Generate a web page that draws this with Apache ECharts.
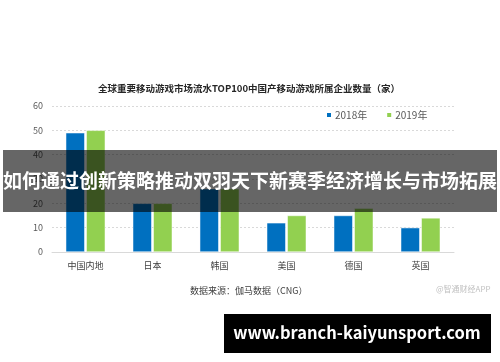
<!DOCTYPE html>
<html>
<head>
<meta charset="utf-8">
<style>html,body{margin:0;padding:0;background:#fff;}#chart{width:500px;height:362px;}</style>
<script src="https://cdn.jsdelivr.net/npm/echarts@6/dist/echarts.min.js"></script>
</head>
<body>
<div id="chart"></div>
<script>
const categories = ['中国内地', '日本', '韩国', '美国', '德国', '英国'];
const values2018 = [49, 20, 26, 12, 15, 10];
const values2019 = [50, 20, 26, 15, 18, 14];
const seriesNames = ['2018年', '2019年'];
const yTicks = { min: 0, max: 60, interval: 10 };
const titleText = '全球重要移动游戏市场流水TOP100中国产移动游戏所属企业数量（家）';
const sourceText = '数据来源：伽马数据（CNG）';
const creditText = '@智通财经APP';
const bannerText = '如何通过创新策略推动双羽天下新赛季经济增长与市场拓展';
const siteText = 'www.branch-kaiyunsport.com';

const FONT = '"Noto Sans CJK SC", "Noto Sans", sans-serif';
const chart = echarts.init(document.getElementById('chart'), null, { renderer: 'canvas' });
chart.setOption({
  animation: false,
  backgroundColor: '#ffffff',
  textStyle: { fontFamily: FONT },
  title: {
    text: titleText,
    left: 244, top: 79, textAlign: 'center',
    textStyle: { fontSize: 9.5, fontWeight: 'bold', color: '#262626', fontFamily: FONT }
  },
  legend: {
    data: seriesNames,
    left: 320, top: 105,
    icon: 'rect', itemWidth: 6, itemHeight: 6, itemGap: 18,
    textStyle: { fontSize: 10, color: '#595959', fontFamily: FONT, padding: [0, 0, 0, -2] }
  },
  grid: { left: 52, right: 46, top: 106, bottom: 110, containLabel: false },
  xAxis: {
    type: 'category', data: categories,
    axisLine: { lineStyle: { color: '#d9d9d9' } },
    axisTick: { show: false },
    axisLabel: { fontSize: 9, color: '#404040', margin: 9, fontFamily: FONT }
  },
  yAxis: {
    type: 'value', min: yTicks.min, max: yTicks.max, interval: yTicks.interval,
    axisLine: { show: false }, axisTick: { show: false },
    axisLabel: { fontSize: 9, color: '#595959', margin: 9, fontFamily: FONT },
    splitLine: { lineStyle: { color: '#d9d9d9', type: [2, 2] } }
  },
  series: [
    { name: seriesNames[0], type: 'bar', data: values2018, barWidth: 19, barGap: '8%',
      itemStyle: { color: '#0070C0', borderColor: '#ffffff', borderWidth: 0.5 } },
    { name: seriesNames[1], type: 'bar', data: values2019, barWidth: 19, barGap: '8%',
      itemStyle: { color: '#92D050', borderColor: '#ffffff', borderWidth: 0.5 } }
  ],
  graphic: [
    { type: 'text', x: 190, y: 286, z: 50,
      style: { text: sourceText, fontSize: 9, fill: '#404040', fontFamily: FONT } },
    { type: 'text', x: 436, y: 285, z: 50,
      style: { text: creditText, fontSize: 8, fill: '#c0c0c0', fontFamily: FONT } },
    { type: 'rect', x: 3, y: 150, z: 100,
      shape: { width: 494, height: 62 },
      style: { fill: 'rgba(0,0,0,0.6)' } },
    { type: 'text', x: 250, y: 181, z: 101,
      style: { text: bannerText, fontSize: 19, fontWeight: 'bold', fill: '#ffffff',
               fontFamily: FONT, align: 'center', verticalAlign: 'middle' } },
    { type: 'rect', x: 224, y: 314, z: 100,
      shape: { width: 267, height: 39 },
      style: { fill: '#000000' } },
    { type: 'text', x: 357, y: 333, z: 101,
      style: { text: siteText, fontSize: 16.5, fontWeight: 'bold', fill: '#ffffff',
               fontFamily: FONT, align: 'center', verticalAlign: 'middle' } }
  ]
});
</script>
</body>
</html>
